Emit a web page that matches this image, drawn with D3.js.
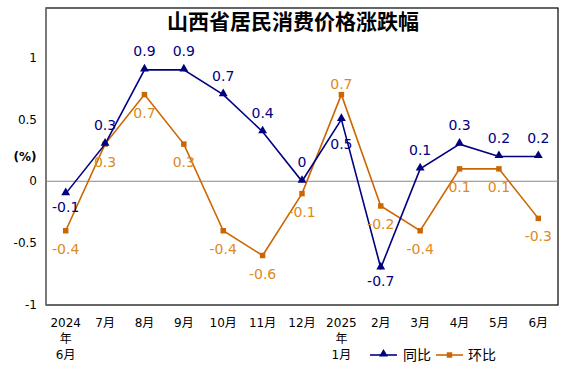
<!DOCTYPE html>
<html>
<head>
<meta charset="utf-8">
<script src="https://cdn.jsdelivr.net/npm/d3@7"></script>
<style>
  body { margin: 0; background: #fff; }
  text { font-family: "DejaVu Sans", "Noto Sans CJK SC", sans-serif; }
</style>
</head>
<body>
<svg id="chart" width="578" height="371"></svg>
<script>
var months = ["2024年6月", "7月", "8月", "9月", "10月", "11月", "12月", "2025年1月", "2月", "3月", "4月", "5月", "6月"]
var tongbi = [-0.1, 0.3, 0.9, 0.9, 0.7, 0.4, 0, 0.5, -0.7, 0.1, 0.3, 0.2, 0.2]
var huanbi = [-0.4, 0.3, 0.7, 0.3, -0.4, -0.6, -0.1, 0.7, -0.2, -0.4, 0.1, 0.1, -0.3]
var yTicks = [-1, -0.5, 0, 0.5, 1]

// which labels go on the other side of the point
var tbBelow = [0, 7, 8]
var hbAbove = [7]

var navy = "#000080",
    orange = "#cc6600",
    orangeText = "#dd8a22";

var svg = d3.select("#chart")
var pLeft = 46, pRight = 558, pTop = 8, pBottom = 305;

var x = d3.scaleBand().domain(months).range([pLeft, pRight])
var y = d3.scaleLinear().domain([-1, 1.4]).range([pBottom, pTop])
var cx = d => x(d) + x.bandwidth() / 2

// frame
svg.append("rect")
  .attr("x", pLeft).attr("y", pTop)
  .attr("width", pRight - pLeft).attr("height", pBottom - pTop)
  .attr("fill", "none").attr("stroke", "#000").attr("stroke-width", 1.2)
svg.append("line")
  .attr("x1", pLeft).attr("x2", pLeft).attr("y1", pTop).attr("y2", pBottom)
  .attr("stroke", "#888").attr("stroke-width", 1.2)
svg.append("line")
  .attr("x1", pLeft).attr("x2", pRight).attr("y1", y(0)).attr("y2", y(0))
  .attr("stroke", "#888").attr("stroke-width", 1)

// y tick labels
svg.append("g").selectAll("text")
  .data(yTicks)
  .join("text")
  .attr("x", 37)
  .attr("y", d => y(d))
  .attr("dy", "0.35em")
  .attr("text-anchor", "end")
  .attr("font-size", 12)
  .text(d => d)

svg.append("text")
  .attr("x", 25).attr("y", 157).attr("dy", "0.35em")
  .attr("text-anchor", "middle")
  .attr("font-size", 12).attr("font-weight", "bold")
  .text("(%)")

// x labels (split year labels on 年)
var xl = svg.append("g").selectAll("text")
  .data(months)
  .join("text")
  .attr("x", d => cx(d))
  .attr("y", 327)
  .attr("text-anchor", "middle")
  .attr("font-size", 12)
xl.each(function(d) {
  var parts = d.indexOf("年") > 0 ? [d.split("年")[0], "年", d.split("年")[1]] : [d]
  d3.select(this).selectAll("tspan")
    .data(parts)
    .join("tspan")
    .attr("x", cx(d))
    .attr("dy", (p, i) => i == 0 ? 0 : 16)
    .text(p => p)
})

// title
svg.append("text")
  .attr("x", 293).attr("y", 29)
  .attr("text-anchor", "middle")
  .attr("font-size", 21).attr("font-weight", "bold")
  .style("font-family", "'Noto Sans CJK SC', sans-serif")
  .text("山西省居民消费价格涨跌幅")

var line = d3.line().x((d, i) => cx(months[i])).y(d => y(d))

var tri = d3.symbol().type(d3.symbolTriangle).size(34)
var sq = d3.symbol().type(d3.symbolSquare).size(30)

// 环比
svg.append("path").datum(huanbi)
  .attr("d", line).attr("fill", "none")
  .attr("stroke", orange).attr("stroke-width", 1.6)
svg.append("g").selectAll("path")
  .data(huanbi)
  .join("path")
  .attr("d", sq)
  .attr("transform", (d, i) => "translate(" + cx(months[i]) + "," + y(d) + ")")
  .attr("fill", orange)

// 同比
svg.append("path").datum(tongbi)
  .attr("d", line).attr("fill", "none")
  .attr("stroke", navy).attr("stroke-width", 1.6)
svg.append("g").selectAll("path")
  .data(tongbi)
  .join("path")
  .attr("d", tri)
  .attr("transform", (d, i) => "translate(" + cx(months[i]) + "," + (y(d) - 1) + ")")
  .attr("fill", navy)

// value labels
svg.append("g").selectAll("text")
  .data(huanbi)
  .join("text")
  .attr("x", (d, i) => cx(months[i]))
  .attr("y", (d, i) => hbAbove.includes(i) ? y(d) - 6 : y(d) + 23)
  .attr("text-anchor", "middle")
  .attr("font-size", 14)
  .attr("fill", orangeText)
  .text(d => d)

svg.append("g").selectAll("text")
  .data(tongbi)
  .join("text")
  .attr("x", (d, i) => cx(months[i]))
  .attr("y", (d, i) => {
    if (i == 7) return y(d) + 30
    return tbBelow.includes(i) ? y(d) + 18 : y(d) - 14
  })
  .attr("text-anchor", "middle")
  .attr("font-size", 14)
  .attr("fill", navy)
  .text(d => d)

// legend
var leg = svg.append("g")
leg.append("line").attr("x1", 370).attr("x2", 397).attr("y1", 355).attr("y2", 355)
  .attr("stroke", navy).attr("stroke-width", 1.6)
leg.append("path").attr("d", tri).attr("transform", "translate(383.5,354)").attr("fill", navy)
leg.append("text").attr("x", 403).attr("y", 355).attr("dy", "0.35em")
  .attr("font-size", 14).style("font-family", "'Noto Sans CJK SC', sans-serif").text("同比")
leg.append("line").attr("x1", 436).attr("x2", 463).attr("y1", 355).attr("y2", 355)
  .attr("stroke", orange).attr("stroke-width", 1.6)
leg.append("path").attr("d", sq).attr("transform", "translate(449.5,355)").attr("fill", orange)
leg.append("text").attr("x", 468).attr("y", 355).attr("dy", "0.35em")
  .attr("font-size", 14).style("font-family", "'Noto Sans CJK SC', sans-serif").text("环比")
</script>
</body>
</html>
